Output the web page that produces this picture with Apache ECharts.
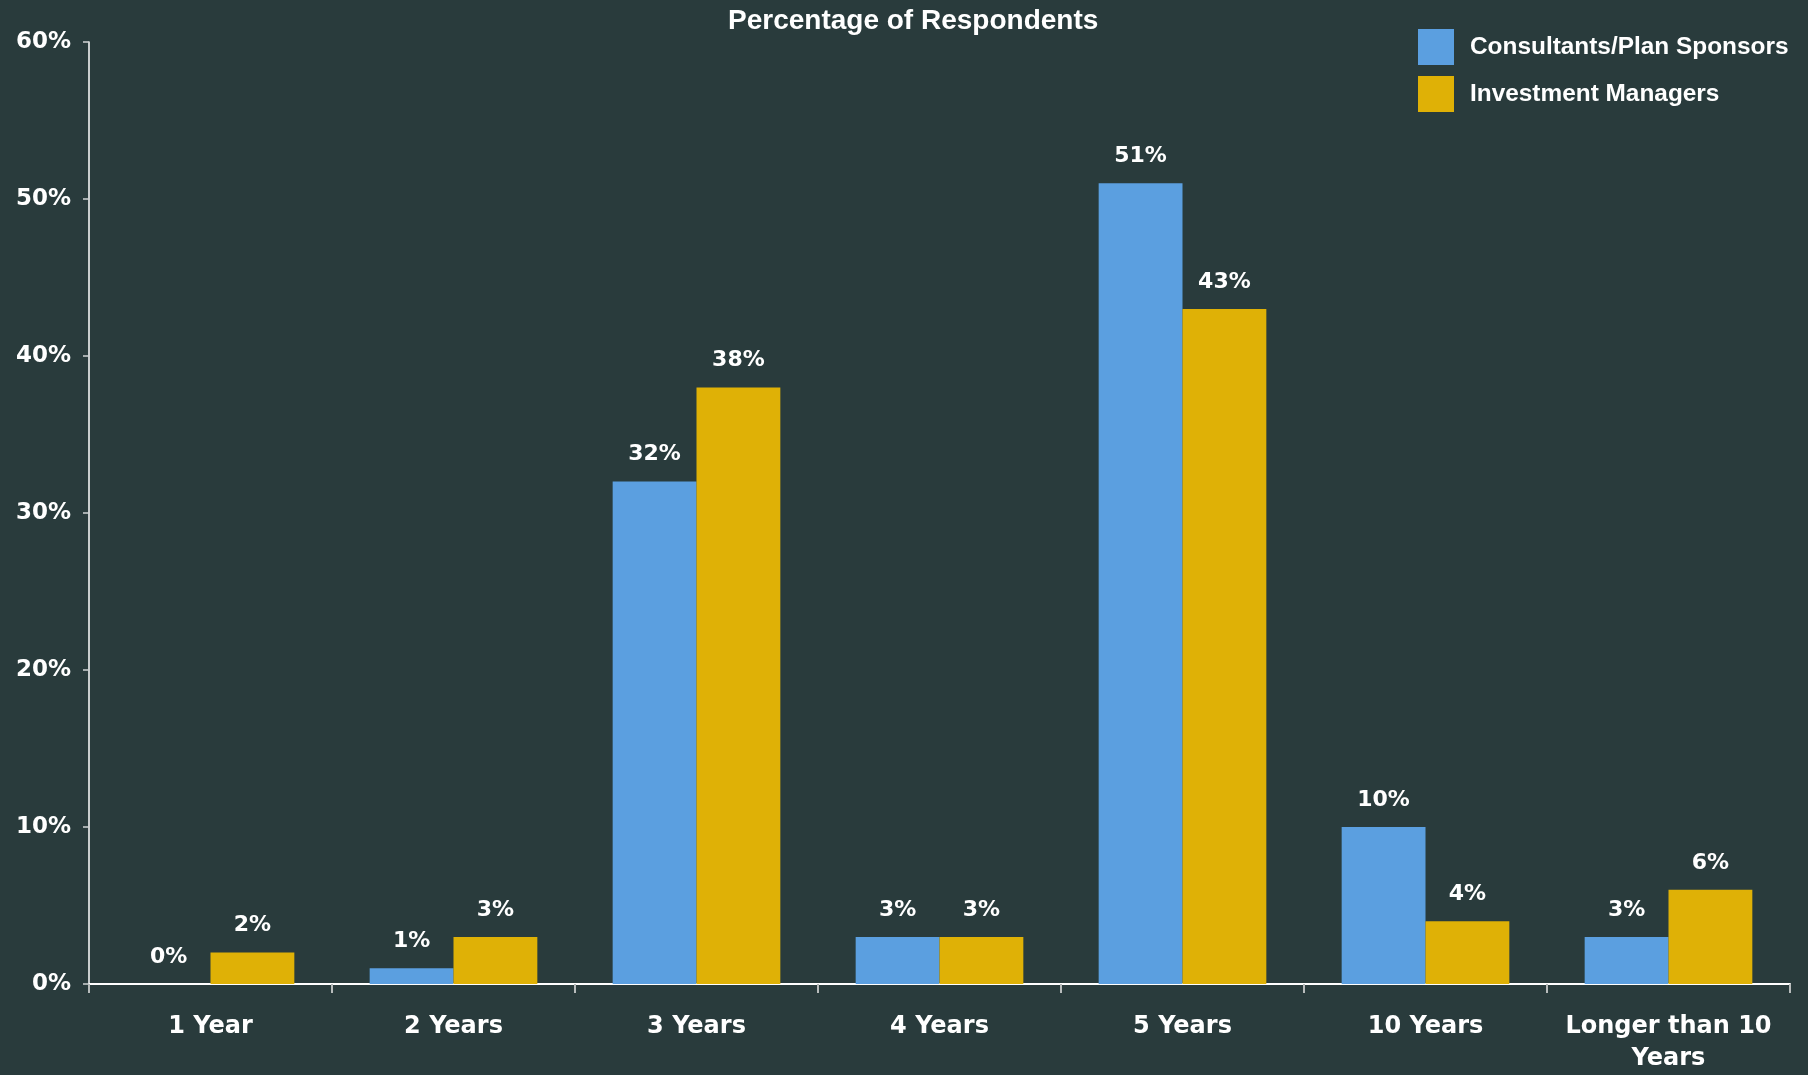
<!DOCTYPE html>
<html>
<head>
<meta charset="utf-8">
<title>Percentage of Respondents</title>
<script src="https://cdn.jsdelivr.net/npm/echarts@6/dist/echarts.min.js"></script>
<style>
  html, body { margin: 0; padding: 0; background: #293b3c; }
  #chart { width: 1808px; height: 1075px; }
</style>
</head>
<body>
<div id="chart"></div>
<script>
// Time horizon categories
const categories = ['1 Year', '2 Years', '3 Years', '4 Years', '5 Years', '10 Years', 'Longer than 10\nYears'];
// Share of respondents (%) per group
const consultantsPlanSponsors = [0, 1, 32, 3, 51, 10, 3];
const investmentManagers = [2, 3, 38, 3, 43, 4, 6];
// Value axis ticks
const yMin = 0;
const yMax = 60;
const yStep = 10;

const BG = '#293b3c';
const BLUE = '#5b9fe0';
const GOLD = '#dfb106';
const AXIS_FONT = '"DejaVu Sans", "Liberation Sans", Arial, sans-serif';
const HEAD_FONT = '"Liberation Sans", Arial, Helvetica, sans-serif';

const chart = echarts.init(document.getElementById('chart'), null, { renderer: 'canvas' });

const labelStyle = {
  show: true,
  position: 'top',
  distance: 16,
  color: '#ffffff',
  fontFamily: AXIS_FONT,
  fontWeight: 'bold',
  fontSize: 22,
  formatter: p => p.value + '%'
};

chart.setOption({
  backgroundColor: BG,
  animation: false,
  title: {
    text: 'Percentage of Respondents',
    left: 728,
    top: 7,
    padding: 0,
    textStyle: {
      color: '#ffffff',
      fontFamily: HEAD_FONT,
      fontWeight: 'bold',
      fontSize: 28
    }
  },
  legend: {
    orient: 'vertical',
    left: 1418,
    top: 29,
    padding: 0,
    itemWidth: 36,
    itemHeight: 36,
    itemGap: 11,
    icon: 'rect',
    textStyle: {
      color: '#ffffff',
      fontFamily: HEAD_FONT,
      fontWeight: 'bold',
      fontSize: 24.4,
      padding: [6, 0, 0, 11]
    },
    data: ['Consultants/Plan Sponsors', 'Investment Managers']
  },
  grid: {
    left: 89,
    right: 18,
    top: 42,
    bottom: 88,
    containLabel: false
  },
  xAxis: {
    type: 'category',
    data: categories,
    axisLine: { show: true, lineStyle: { color: '#ffffff', width: 2 } },
    axisTick: { show: true, length: 9, alignWithLabel: false, lineStyle: { color: '#b8bcbc', width: 2 } },
    axisLabel: {
      color: '#ffffff',
      fontFamily: AXIS_FONT,
      fontWeight: 'bold',
      fontSize: 24,
      lineHeight: 32,
      margin: 27,
      interval: 0
    },
    splitLine: { show: false }
  },
  yAxis: {
    type: 'value',
    min: yMin,
    max: yMax,
    interval: yStep,
    axisLine: { show: true, lineStyle: { color: '#ffffff', width: 1.5 } },
    axisTick: { show: true, length: 6, lineStyle: { color: '#d0d4d4', width: 1.5 } },
    axisLabel: {
      color: '#ffffff',
      fontFamily: AXIS_FONT,
      fontWeight: 'bold',
      fontSize: 23,
      margin: 18,
      formatter: '{value}%'
    },
    splitLine: { show: false }
  },
  series: [
    {
      name: 'Consultants/Plan Sponsors',
      type: 'bar',
      data: consultantsPlanSponsors,
      barGap: '0%',
      barCategoryGap: '31%',
      itemStyle: { color: BLUE },
      label: labelStyle
    },
    {
      name: 'Investment Managers',
      type: 'bar',
      data: investmentManagers,
      barGap: '0%',
      barCategoryGap: '31%',
      itemStyle: { color: GOLD },
      label: labelStyle
    }
  ]
});
</script>
</body>
</html>
